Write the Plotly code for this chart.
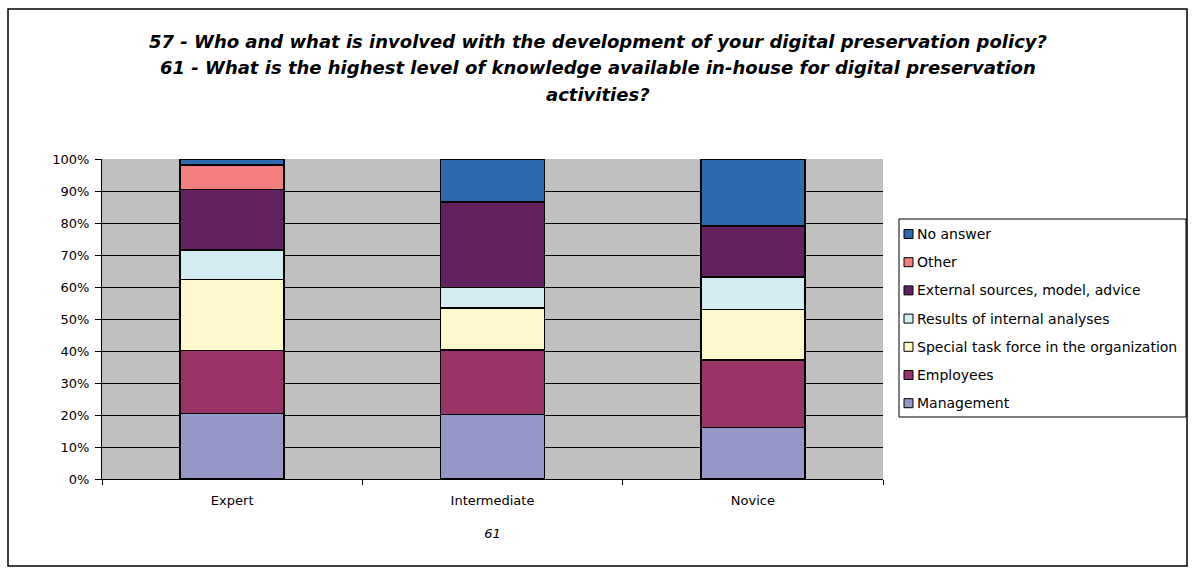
import plotly.graph_objects as go

categories = ["Expert", "Intermediate", "Novice"]
series_names = ["Management", "Employees", "Special task force in the organization",
                "Results of internal analyses", "External sources, model, advice",
                "Other", "No answer"]
management = [20.5, 20.2, 16.1]
employees = [19.6, 20.1, 21.1]
special_task = [22.3, 13.2, 15.8]
internal_results = [9.2, 6.4, 10.2]
external_sources = [18.9, 26.7, 15.9]
other = [7.6, 0.0, 0.0]
no_answer = [1.9, 13.4, 20.9]
y_ticks = [0, 10, 20, 30, 40, 50, 60, 70, 80, 90, 100]
y_tick_labels = [f"{v}%" for v in y_ticks]

series_values = [management, employees, special_task, internal_results,
                 external_sources, other, no_answer]
colors = ["#9696C8", "#993366", "#FCF8CC", "#D3EDF3", "#632161", "#F47F7F", "#2E68B0"]

FONT = "DejaVu Sans, Verdana, sans-serif"

fig = go.Figure()
for name, vals, col in zip(series_names, series_values, colors):
    fig.add_trace(go.Bar(
        x=categories, y=vals, name=name, showlegend=False,
        marker=dict(color=col, line=dict(color="black", width=1.5)),
        hovertemplate="%{x}: %{y:.1f}%<extra>" + name + "</extra>",
    ))

W, H = 1195, 574
L, R, T, B = 102, 883, 159, 479

def px_x(p):
    return (p - L) / (R - L)

def px_y(p):
    return (B - p) / (B - T)

fig.update_layout(
    width=W, height=H,
    margin=dict(l=L, r=W - R, t=T, b=H - B),
    barmode="stack", bargap=0.6,
    paper_bgcolor="white", plot_bgcolor="#C0C0C0",
    font=dict(family=FONT, size=13, color="black"),
    showlegend=False,
)
fig.update_xaxes(
    showline=True, linecolor="black", linewidth=1,
    ticks="outside", tickson="boundaries", ticklen=5, tickcolor="black",
    showgrid=False, tickfont=dict(size=13), ticklabelstandoff=9,
    title=dict(text="<i>61</i>", font=dict(size=13), standoff=22),
)
fig.update_yaxes(
    range=[0, 100], tickvals=y_ticks, ticktext=y_tick_labels,
    showline=True, linecolor="black", linewidth=1,
    ticks="outside", ticklen=6, tickcolor="black",
    showgrid=True, gridcolor="black", gridwidth=1,
    zeroline=False, tickfont=dict(size=13), ticklabelstandoff=3,
)

title_lines = [
    "57 - Who and what is involved with the development of your digital preservation policy?",
    "61 - What is the highest level of knowledge available in-house for digital preservation",
    "activities?",
]
for line, py in zip(title_lines, [41, 68, 94]):
    fig.add_annotation(
        text=f"<b><i>{line}</i></b>", xref="paper", yref="paper",
        x=px_x(598), y=px_y(py), xanchor="center", yanchor="middle",
        showarrow=False, font=dict(size=18, color="black"),
    )

# legend (drawn manually to match the reference layout), top entry = last series
fig.add_shape(type="rect", xref="paper", yref="paper",
              x0=px_x(899), x1=px_x(1186), y0=px_y(417), y1=px_y(219),
              line=dict(color="black", width=1), fillcolor="white")
for k, (name, col) in enumerate(zip(reversed(series_names), reversed(colors))):
    cy = 234 + k * 28.2
    fig.add_shape(type="rect", xref="paper", yref="paper",
                  x0=px_x(904), x1=px_x(913), y0=px_y(cy + 4.5), y1=px_y(cy - 4.5),
                  line=dict(color="black", width=1), fillcolor=col)
    fig.add_annotation(text=name, xref="paper", yref="paper",
                       x=px_x(915), y=px_y(cy), xanchor="left", yanchor="middle",
                       showarrow=False, font=dict(size=14, color="black"))

fig.add_shape(type="rect", xref="paper", yref="paper",
              x0=px_x(8), x1=px_x(1187), y0=px_y(566), y1=px_y(9),
              line=dict(color="black", width=1.5), fillcolor="rgba(0,0,0,0)", layer="below")

fig.write_html("out.html", config={"displayModeBar": False},
               post_script="document.body.style.margin='0';")
